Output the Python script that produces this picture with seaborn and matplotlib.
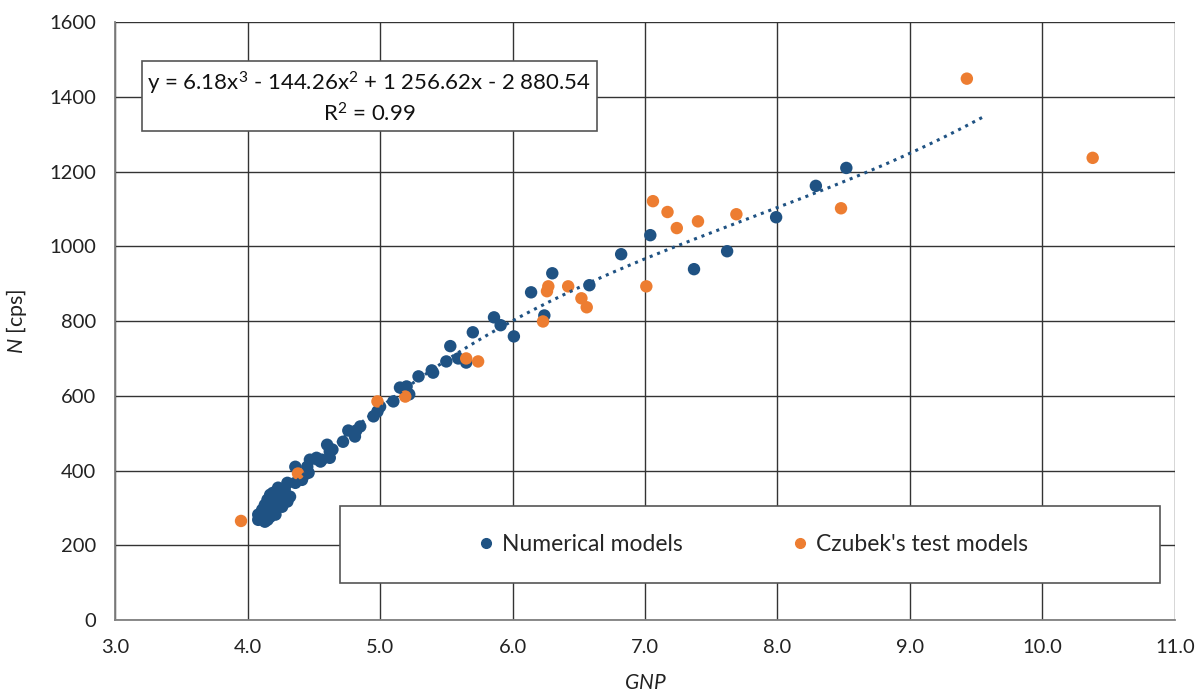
import numpy as np
import pandas as pd
import matplotlib
matplotlib.use("Agg")
import matplotlib.pyplot as plt
from matplotlib.patches import Rectangle
import seaborn as sns

# ---- data ----
num_x = [4.08, 4.08, 4.09, 4.11, 4.13, 4.13, 4.15, 4.15, 4.17, 4.17, 4.18, 4.19,
         4.21, 4.21, 4.23, 4.23, 4.24, 4.26, 4.27, 4.28, 4.30, 4.30, 4.32, 4.36,
         4.36, 4.41, 4.43, 4.45, 4.46, 4.47, 4.52, 4.55, 4.56, 4.60, 4.62, 4.62,
         4.64, 4.72, 4.76, 4.81, 4.82, 4.85, 4.95, 4.98, 5.00, 5.10, 5.15, 5.20,
         5.22, 5.29, 5.39, 5.40, 5.50, 5.53, 5.59, 5.65, 5.70, 5.86, 5.91, 6.01,
         6.14, 6.24, 6.30, 6.58, 6.82, 7.04, 7.37, 7.62, 7.99, 8.29, 8.52]
num_y = [268, 282, 275, 295, 263, 308, 268, 322, 276, 335, 290, 340,
         282, 314, 308, 354, 340, 303, 322, 349, 317, 367, 330, 367,
         410, 375, 389, 410, 394, 429, 434, 424, 429, 469, 451, 434,
         456, 477, 507, 491, 507, 518, 545, 558, 571, 585, 622, 625,
         604, 652, 668, 662, 692, 733, 700, 689, 770, 810, 789, 759,
         877, 815, 928, 896, 979, 1030, 939, 987, 1078, 1162, 1210]

test_x = [3.95, 4.38, 4.98, 5.19, 5.65, 5.74, 6.23, 6.26, 6.27, 6.42, 6.52,
          6.56, 7.01, 7.06, 7.17, 7.24, 7.40, 7.69, 8.48, 9.43, 10.38]
test_y = [265, 392, 585, 598, 700, 692, 799, 880, 893, 893, 861,
          837, 893, 1121, 1092, 1049, 1067, 1086, 1102, 1449, 1237]

series_names = ["Numerical models", "Czubek's test models"]
trend_coefs = [6.18, -144.26, 1256.62, -2880.54]
trend_range = [4.08, 9.55]
x_ticks = [3.0, 4.0, 5.0, 6.0, 7.0, 8.0, 9.0, 10.0, 11.0]
y_ticks = [0, 200, 400, 600, 800, 1000, 1200, 1400, 1600]

# ---- style ----
sns.set_theme(style="white")
plt.rcParams['font.family'] = ['Lato', 'DejaVu Sans']
plt.rcParams['mathtext.fontset'] = 'custom'
plt.rcParams['mathtext.it'] = 'Lato:italic'
plt.rcParams['mathtext.rm'] = 'Lato'
plt.rcParams['mathtext.default'] = 'regular'

df = pd.DataFrame({
    "GNP": num_x + test_x,
    "N": num_y + test_y,
    "series": [series_names[0]] * len(num_x) + [series_names[1]] * len(test_x),
})
palette = {series_names[0]: "#1f5283", series_names[1]: "#ed7d31"}

fig = plt.figure(figsize=(12, 6.95), dpi=100)
ax = fig.add_axes([0.096, 0.108, 0.883, 0.860])

sns.scatterplot(data=df, x="GNP", y="N", hue="series", palette=palette,
                s=80, linewidth=0, ax=ax, zorder=3, legend=False)

# trendline from stated equation
tx = np.linspace(trend_range[0], trend_range[1], 200)
ax.plot(tx, np.polyval(trend_coefs, tx), linestyle=(0, (1, 1.6)),
        color="#1f5283", linewidth=2.2, zorder=4)

ax.set_xlim(x_ticks[0], x_ticks[-1])
ax.set_ylim(y_ticks[0], y_ticks[-1])
ax.set_xticks(x_ticks)
ax.set_yticks(y_ticks)
ax.set_xticklabels([f"{v:.1f}" for v in x_ticks])
ax.set_yticklabels([str(v) for v in y_ticks])
ax.tick_params(axis='both', length=0, labelsize=14.5, colors="#222222")
ax.tick_params(axis='x', pad=14)
ax.tick_params(axis='y', pad=14)
ax.grid(True, color="#333333", linewidth=1.0, zorder=0)
ax.set_axisbelow(True)
for side in ["top", "right"]:
    ax.spines[side].set_visible(False)
for side in ["left", "bottom"]:
    ax.spines[side].set_color("#808080")
    ax.spines[side].set_linewidth(1.3)

ax.set_xlabel("$\\mathit{GNP}$", fontsize=15, labelpad=12, color="#222222")
ax.set_ylabel("$\\mathit{N}$ [cps]", fontsize=15.5, labelpad=14, color="#222222")

# equation box
ax.text(0.240, 0.874,
        "y = 6.18x$^{3}$ - 144.26x$^{2}$ + 1 256.62x - 2 880.54\nR$^{2}$ = 0.99",
        transform=ax.transAxes, ha="center", va="center", fontsize=16,
        linespacing=1.3, color="#111111", zorder=6,
        bbox=dict(boxstyle="square,pad=0.25", facecolor="white",
                  edgecolor="#555555", linewidth=1.2))

# legend box
ax.add_patch(Rectangle((0.212, 0.062), 0.774, 0.129, transform=ax.transAxes,
                       facecolor="white", edgecolor="#555555", linewidth=1.2,
                       zorder=5))
handles = [plt.Line2D([], [], marker='o', linestyle='', markersize=7,
                      color=palette[n]) for n in series_names]
leg = ax.legend(handles, series_names, loc="center",
                bbox_to_anchor=(0.600, 0.127), ncol=2, frameon=False,
                fontsize=16.5, columnspacing=4.6, handletextpad=0.2,
                handlelength=1.0)
leg.set_zorder(7)

fig.savefig("out.png", dpi=100)
